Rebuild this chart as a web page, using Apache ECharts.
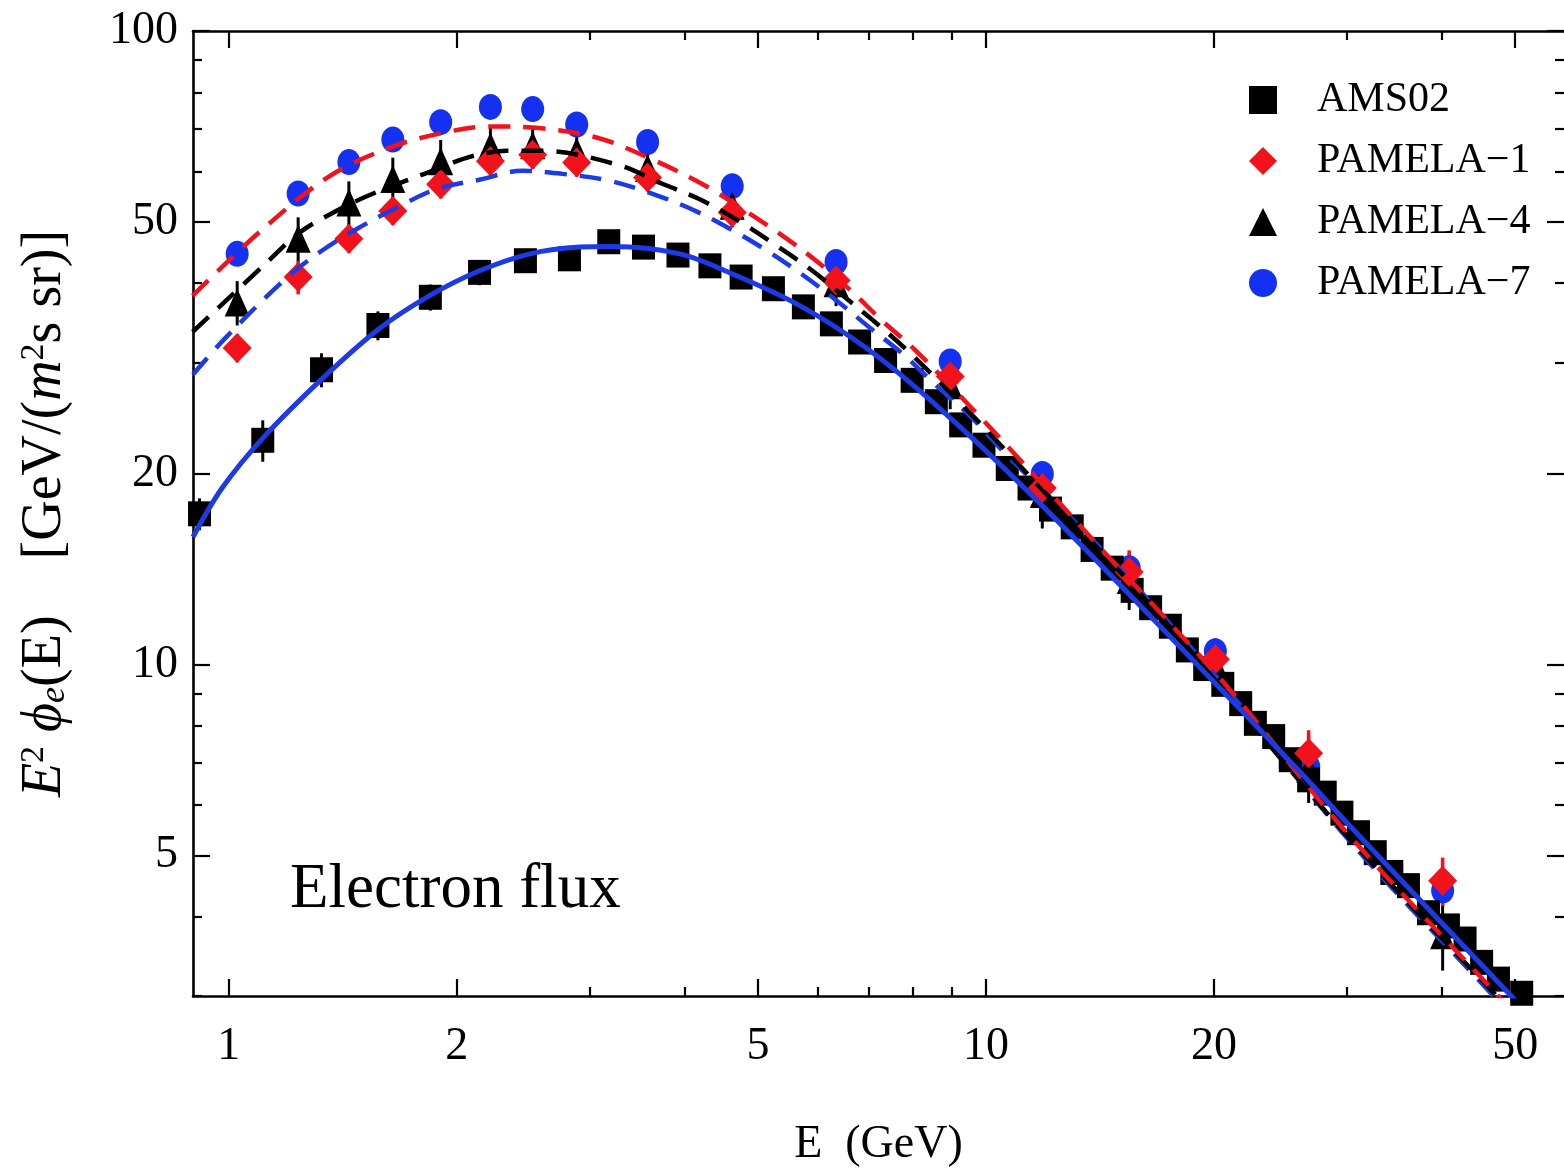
<!DOCTYPE html>
<html>
<head>
<meta charset="utf-8">
<script src="https://cdn.jsdelivr.net/npm/echarts@6/dist/echarts.min.js"></script>
<style>
  html, body { margin: 0; padding: 0; background: #ffffff; }
  #chart { width: 1564px; height: 1173px; }
</style>
</head>
<body>
<div id="chart"></div>
<script>
// Electron flux spectra: energy E in GeV, E^2 * phi_e(E) in GeV/(m^2 s sr)

// AMS-02 measurement
const amsE = [0.915, 1.109, 1.326, 1.574, 1.846, 2.144, 2.465, 2.818, 3.176, 3.53,
  3.92, 4.32, 4.75, 5.24, 5.74, 6.25, 6.81, 7.37, 7.99, 8.60,
  9.26, 9.94, 10.67, 11.40, 12.17, 13.0, 13.81, 14.68, 15.6, 16.5,
  17.52, 18.45, 19.45, 20.55, 21.7, 22.69, 23.99, 25.23, 26.68, 28.06,
  29.52, 31.05, 32.67, 34.36, 36.14, 38.41, 40.81, 42.93, 45.15, 47.52, 51.0];
const amsF = [17.3, 22.6, 29.2, 34.3, 38.0, 41.6, 43.4, 43.7, 46.5, 45.6,
  44.3, 42.6, 40.9, 39.2, 36.7, 34.5, 32.3, 30.2, 28.1, 26.0,
  23.9, 22.2, 20.4, 19.0, 17.6, 16.5, 15.2, 14.2, 13.1, 12.3,
  11.5, 10.55, 9.86, 9.31, 8.68, 8.08, 7.70, 7.08, 6.58, 6.27,
  5.83, 5.43, 5.05, 4.70, 4.48, 4.06, 3.87, 3.69, 3.39, 3.19, 3.03];
const amsErr = [1.0, 1.7, 1.8, 1.8, 1.8, 1.9, 1.8, 1.2, 1.0, 1.0,
  0.9, 0.9, 0.8, 0.8, 0.7, 0.7, 0.6, 0.6, 0.5, 0.5,
  0.5, 0.4, 0.4, 0.4, 0.35, 0.35, 0.3, 0.3, 0.3, 0.25,
  0.25, 0.25, 0.2, 0.2, 0.2, 0.2, 0.2, 0.18, 0.17, 0.16,
  0.15, 0.14, 0.13, 0.13, 0.12, 0.12, 0.11, 0.11, 0.1, 0.1, 0.1];

// PAMELA periods (shared energy bins)
const pamE = [1.026, 1.235, 1.441, 1.647, 1.905, 2.216, 2.520, 2.881, 3.574, 4.623,
  6.34, 8.97, 11.87, 15.46, 20.09, 26.68, 40.1];
const pam1F = [31.6, 40.9, 47.0, 52.0, 57.3, 62.3, 63.8, 62.0, 58.7, 51.7,
  40.4, 28.5, 19.0, 14.0, 10.2, 7.25, 4.56];
const pam1Err = [1.6, 2.5, 2.4, 2.6, 2.9, 3.1, 3.2, 3.1, 2.9, 2.6,
  2.0, 1.5, 1.2, 1.15, 0.8, 0.63, 0.40];
const pam4F = [37.3, 47.0, 53.6, 58.4, 62.3, 65.8, 66.0, 64.6, 60.8, 53.0,
  40.0, 27.6, 18.6, 13.6, 10.0, 6.85, 3.74];
const pam4Err = [3.0, 3.8, 4.3, 4.7, 5.0, 4.6, 4.6, 4.9, 4.3, 4.0,
  3.2, 2.3, 2.2, 1.4, 1.0, 0.8, 0.45];
const pam7F = [44.5, 55.4, 62.1, 67.4, 71.8, 75.9, 75.3, 71.2, 66.8, 56.9,
  43.2, 30.1, 20.0, 14.2, 10.5, 6.91, 4.40];

// Model curves
const fitAmsE = [0.897, 0.98, 1.11, 1.33, 1.58, 1.84, 2.14, 2.50, 2.91, 3.21,
  3.94, 4.62, 5.67, 6.95, 8.49, 11.5, 18.0, 25.9, 30.1, 49.4, 52];
const fitAmsF = [15.9, 19.0, 22.8, 28.3, 33.9, 38.2, 41.8, 44.5, 45.6, 45.7,
  44.5, 41.4, 36.9, 31.6, 26.0, 18.5, 10.7, 6.8, 5.6, 3.0, 2.81];

const fitRedE = [0.896, 1.099, 1.359, 1.646, 1.956, 2.21, 2.518, 3.059, 3.626, 4.272,
  4.779, 5.35, 5.967, 6.636, 7.293, 8.058, 9.73, 11.86, 14.22, 17.02, 21.11, 29.85, 47.5, 50];
const fitRedF = [38.2, 48.2, 59.0, 65.7, 69.4, 70.7, 70.4, 67.9, 62.7, 56.9,
  52.3, 47.8, 43.4, 38.9, 34.9, 31.4, 24.9, 19.3, 15.2, 12.05, 9.06, 5.46, 3.0, 2.8];

const fitBlackE = [0.896, 1.122, 1.241, 1.371, 1.535, 1.881, 2.092, 2.334, 2.588, 3.28,
  3.725, 4.182, 4.722, 5.252, 5.876, 6.496, 7.224, 7.989, 9.672, 11.86, 17.02, 29.85, 47.5, 50];
const fitBlackF = [33.5, 43.1, 48.1, 51.6, 55.1, 60.5, 63.4, 64.7, 64.7, 61.4,
  57.5, 54.3, 50.1, 46.1, 42.0, 38.1, 34.3, 30.8, 24.5, 18.9, 11.9, 5.40, 2.98, 2.8];

const fitBlueE = [0.897, 0.988, 1.193, 1.327, 1.48, 1.665, 1.881, 2.15, 2.443, 2.758,
  3.171, 3.571, 4.033, 4.539, 5.095, 5.70, 6.341, 7.03, 7.796, 8.59,
  9.526, 10.50, 14.22, 21.11, 29.85, 46.8, 50];
const fitBlueF = [28.7, 32.7, 40.8, 45.0, 48.8, 52.6, 56.3, 58.3, 60.2, 59.5,
  58.1, 55.7, 52.7, 49.1, 45.3, 41.4, 37.6, 34.0, 30.8, 27.6,
  24.7, 21.8, 15.2, 8.96, 5.36, 3.0, 2.75];

// Axis ranges and tick values (in GeV and flux units)
const xLimits = [0.897, 58];
const yLimits = [3, 100];
const xMajorTicks = [1, 2, 5, 10, 20, 50];
const xMinorTicks = [3, 4, 6, 7, 8, 9, 30, 40];
const yMajorTicks = [5, 10, 20, 50, 100];
const yMinorTicks = [3, 4, 6, 7, 8, 9, 30, 40, 60, 70, 80, 90];

const seriesNames = ['AMS02', 'PAMELA\u22121', 'PAMELA\u22124', 'PAMELA\u22127'];

// ---------------------------------------------------------------------------
const FONT = '"Liberation Serif", "Times New Roman", Times, serif';
const RED = '#f2121c';
const BLUE = '#1431f2';
const BLUE_LINE = '#1c3ae6';
const lg = Math.log10;

// both axes are logarithmic: work in decades on linear value axes
const toLog = (xs, ys) => xs.map((x, i) => [lg(x), lg(ys[i])]);
const toLogErr = (xs, ys, es) => xs.map((x, i) => [lg(x), lg(ys[i] - es[i]), lg(ys[i] + es[i])]);
const fmt = v => String(Math.round(Math.pow(10, v)));

function makeAxis(dim, position, ticks, tickLen, opts) {
  const range = dim === 'x' ? xLimits : yLimits;
  return Object.assign({
    type: 'value',
    position: position,
    min: lg(range[0]),
    max: lg(range[1]),
    gridIndex: 0,
    splitLine: { show: false },
    axisLine: { show: false, onZero: false },
    axisTick: {
      show: true, inside: true, length: tickLen,
      customValues: ticks.map(lg),
      lineStyle: { color: '#000', width: 2.2 }
    },
    axisLabel: { show: false },
    axisPointer: { show: false }
  }, opts || {});
}

const frameLine = { show: true, onZero: false, lineStyle: { color: '#000', width: 2.6 } };

const xAxes = [
  makeAxis('x', 'bottom', xMajorTicks, 17, {
    axisLine: frameLine,
    axisLabel: {
      show: true, customValues: xMajorTicks.map(lg), formatter: fmt,
      margin: 28, color: '#000', fontSize: 46, fontFamily: FONT
    },
    name: 'E  (GeV)',
    nameLocation: 'middle',
    nameGap: 126,
    nameTextStyle: { color: '#000', fontSize: 46, fontFamily: FONT }
  }),
  makeAxis('x', 'bottom', xMinorTicks, 9),
  makeAxis('x', 'top', xMajorTicks, 17, { axisLine: frameLine }),
  makeAxis('x', 'top', xMinorTicks, 9)
];

const yName = '{it|E}{sup|2} {it|\u03D5}{sub|e}{n|(E)}    {n|[GeV/(}{it|m}{sup|2}{n|s sr)]}';

const yAxes = [
  makeAxis('y', 'left', yMajorTicks, 17, {
    axisLine: frameLine,
    axisLabel: {
      show: true, customValues: yMajorTicks.map(lg), formatter: fmt,
      margin: 15, color: '#000', fontSize: 46, fontFamily: FONT
    },
    name: yName,
    nameLocation: 'middle',
    nameRotate: 90,
    nameGap: 120,
    nameTextStyle: {
      color: '#000', fontSize: 56, fontFamily: FONT,
      rich: {
        n: { fontSize: 56, fontFamily: FONT, color: '#000' },
        it: { fontSize: 56, fontFamily: FONT, fontStyle: 'italic', color: '#000' },
        sup: { fontSize: 34, fontFamily: FONT, color: '#000', verticalAlign: 'top', lineHeight: 34 },
        sub: { fontSize: 36, fontFamily: FONT, fontStyle: 'italic', color: '#000', verticalAlign: 'bottom', lineHeight: 36 }
      }
    }
  }),
  makeAxis('y', 'left', yMinorTicks, 9),
  makeAxis('y', 'right', yMajorTicks, 17),
  makeAxis('y', 'right', yMinorTicks, 9)
];

function errorBars(name, data, color, width) {
  return {
    type: 'custom',
    name: name,
    xAxisIndex: 0,
    yAxisIndex: 0,
    silent: true,
    data: data,
    encode: { x: 0, y: [1, 2] },
    renderItem: function (params, api) {
      const p1 = api.coord([api.value(0), api.value(1)]);
      const p2 = api.coord([api.value(0), api.value(2)]);
      return {
        type: 'line',
        shape: { x1: p1[0], y1: p1[1], x2: p2[0], y2: p2[1] },
        style: { stroke: color, lineWidth: width }
      };
    }
  };
}

function points(name, data, symbol, size, color) {
  return {
    type: 'scatter',
    name: name,
    xAxisIndex: 0,
    yAxisIndex: 0,
    data: data,
    symbol: symbol,
    symbolSize: size,
    itemStyle: { color: color, opacity: 1 },
    emphasis: { disabled: true }
  };
}

function curve(name, data, color, dashed, width) {
  return {
    type: 'line',
    name: name,
    xAxisIndex: 0,
    yAxisIndex: 0,
    data: data,
    symbol: 'none',
    showSymbol: false,
    smooth: 0.35,
    clip: true,
    silent: true,
    lineStyle: { color: color, width: width, type: dashed ? [22, 13] : 'solid', cap: 'butt' }
  };
}

const option = {
  animation: false,
  backgroundColor: '#ffffff',
  grid: { left: 193, right: -2, top: 31, bottom: 173, containLabel: false },
  xAxis: xAxes,
  yAxis: yAxes,
  legend: {
    data: seriesNames,
    orient: 'vertical',
    left: 1244,
    top: 74,
    itemWidth: 28,
    itemHeight: 28,
    itemGap: 19,
    selectedMode: false,
    textStyle: { color: '#000', fontSize: 42, fontFamily: FONT, padding: [0, 0, 0, 35] }
  },
  graphic: [{
    type: 'text',
    x: 290,
    y: 890,
    silent: true,
    style: {
      text: 'Electron flux',
      fontSize: 63,
      fontFamily: FONT,
      fill: '#000',
      verticalAlign: 'middle'
    }
  }],
  series: [
    points(seriesNames[3], toLog(pamE, pam7F), 'circle', [23, 26], BLUE),
    errorBars('AMS02 errors', toLogErr(amsE, amsF, amsErr), '#000', 3),
    points(seriesNames[0], toLog(amsE, amsF), 'rect', [23, 25], '#000'),
    errorBars('PAMELA-4 errors', toLogErr(pamE, pam4F, pam4Err), '#000', 3),
    points(seriesNames[2], toLog(pamE, pam4F), 'triangle', [25, 28], '#000'),
    errorBars('PAMELA-1 errors', toLogErr(pamE, pam1F, pam1Err), RED, 3.5),
    points(seriesNames[1], toLog(pamE, pam1F), 'diamond', [29, 30], RED),
    curve('fit blue dashed', toLog(fitBlueE, fitBlueF), BLUE_LINE, true, 4.5),
    curve('fit black dashed', toLog(fitBlackE, fitBlackF), '#000', true, 4.5),
    curve('fit red dashed', toLog(fitRedE, fitRedF), RED, true, 4.5),
    curve('fit AMS02', toLog(fitAmsE, fitAmsF), BLUE_LINE, false, 5)
  ]
};

const chart = echarts.init(document.getElementById('chart'), null, { renderer: 'canvas' });
chart.setOption(option);
</script>
</body>
</html>
